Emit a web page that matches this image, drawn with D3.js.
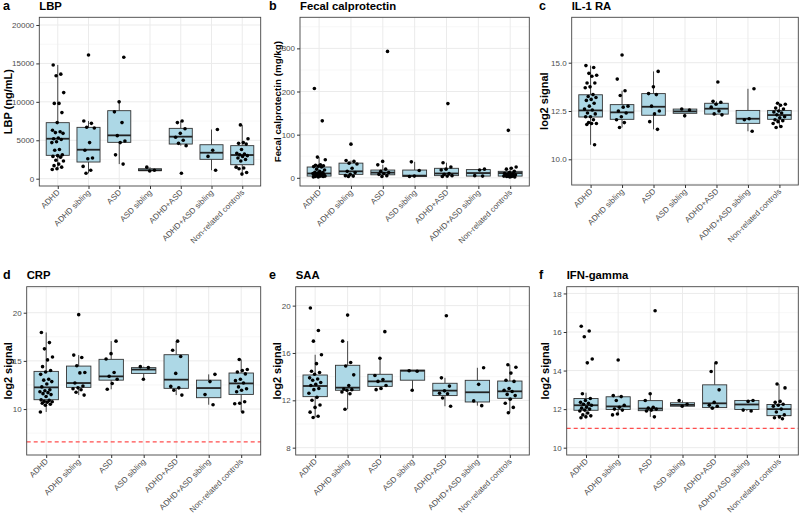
<!DOCTYPE html>
<html><head><meta charset="utf-8">
<script src="https://cdn.jsdelivr.net/npm/d3@7"></script>
<style>
html,body{margin:0;padding:0;background:#fff;}
svg{display:block;font-family:"Liberation Sans",Arial,sans-serif;}
</style></head>
<body><svg id="chart" width="800" height="517"></svg>
<script>
// ---------- DATA ----------
const groups = ["ADHD","ADHD sibling","ASD","ASD sibling","ADHD+ASD","ADHD+ASD sibling","Non-related controls"];

// box stats per group: [lower whisker, q1, median, q3, upper whisker]
const lbpPoints = [
  [14800,13600,13400,11200,9800,9800,8600,7300,6300,6100,6000,5900,5300,5200,5100,4800,4700,3800,3700,3100,3000,2900,2800,2400,2300,1900,1700,1500,1300,1200],
  [16100,7500,7200,6700,6600,4700,3700,2700,2600,1600,1100,700],
  [15800,10000,8700,7300,5600,4900,4700,3100,1900],
  [1500,1100,1000],
  [7500,7300,6500,5900,5400,5000,4600,4300,700],
  [6400,3700,2900,1100],
  [7000,5200,4700,4600,4500,3800,3300,3200,3100,3000,2900,2700,2500,2300,1500,1400,1300,800,600]
];
const lbpBox = [[1200,3040,5200,7290,14800],[700,2170,3770,6680,7500],[1900,4730,5640,8850,10000],[1000,1050,1100,1300,1500],[4300,4510,5470,6550,7500],[1100,2520,3380,4420,6400],[600,1820,3080,4300,7000]];
const lbpTicks = [0,5000,10000,15000,20000];

const calPoints = [
  [207,132,48,42,30,29,28,27,26,25,20,18,15,13,12,11,10,9,9,8,7,6,5,5,4,4,3,3,2,2],
  [78,40,38,34,32,22,15,12,8,5,4,3],
  [293,38,30,20,15,12,10,8,5,3],
  [37,17,4,3],
  [172,35,25,20,18,10,8,5,4,3],
  [20,18,5,4],
  [110,25,22,20,15,12,10,9,8,7,6,5,5,4,4,3,3,2,2]
];
const calBox = [[2,4,10,25,48],[3,8,15,34,40],[3,7,12,18,30],[3,3,5,18,37],[3,5,10,22,35],[4,4,11,19,20],[2,4,11,15,25]];
const calTicks = [0,100,200,300];

const il1Points = [
  [14.85,14.75,14.45,14.35,14.3,13.95,13.95,13.75,13.7,13.35,13.25,13.2,13.1,13.05,12.9,12.75,12.6,12.55,12.4,12.35,12.2,12.2,12.05,11.9,11.85,11.85,11.8,10.75],
  [15.4,14.15,13.55,13.3,12.75,12.7,12.5,12.4,12.2,12.05,11.9,11.65],
  [14.55,13.75,13.4,13.35,12.75,12.5,12.35,11.95,11.55],
  [12.6,12.55,12.25],
  [14.0,13.0,12.95,12.85,12.7,12.5,12.35,12.3],
  [13.65,12.1,12.05,11.45],
  [12.9,12.85,12.8,12.65,12.6,12.5,12.45,12.4,12.3,12.2,12.15,12.05,12.0,11.95,11.85,11.7,11.65]
];
const il1Box = [[10.75,12.19,12.53,13.34,14.85],[11.65,12.07,12.43,12.83,13.55],[11.55,12.28,12.72,13.4,14.55],[12.25,12.38,12.48,12.6,12.6],[12.3,12.34,12.62,12.9,13.0],[11.45,11.86,12.1,12.53,13.65],[11.65,12.07,12.29,12.53,12.9]];
const il1Ticks = [10.0,12.5,15.0];

const crpPoints = [
  [17.95,16.9,16.25,15.4,15.1,14.4,14.0,13.85,13.6,13.1,13.0,12.85,12.6,12.3,12.0,11.9,11.8,11.7,11.6,11.5,11.3,10.95,10.9,10.8,10.75,10.7,10.6,10.5,10.4,9.7],
  [19.8,15.6,15.35,14.5,13.8,13.75,12.7,12.4,12.2,12.1,12.0,11.75,11.45],
  [17.05,15.75,15.2,13.8,13.4,13.1,12.65,12.05],
  [14.4,14.3,13.1],
  [17.05,16.1,15.45,13.7,12.35,12.2,11.95,11.45],
  [13.6,12.85,11.5,10.45],
  [15.15,14.1,14.0,13.85,13.65,13.1,12.95,12.7,12.3,12.1,11.95,11.8,10.75,10.6,10.55,9.7]
];
const crpBox = [[9.7,10.97,12.25,13.91,17.95],[11.45,12.25,12.7,14.46,15.6],[12.05,13.0,13.39,15.16,17.05],[13.1,13.7,14.1,14.3,14.4],[11.45,12.15,13.05,15.64,17.05],[10.45,11.18,12.18,13.0,13.6],[9.7,11.52,12.66,13.74,15.15]];
const crpTicks = [10,15,20];
const crpThreshold = 6.6;

const saaPoints = [
  [19.8,17.9,17.0,15.85,15.1,14.45,14.35,14.2,13.9,13.8,13.7,13.5,13.35,13.25,13.0,12.9,12.6,12.25,12.0,11.6,11.4,11.0,10.65,10.55],
  [19.2,17.0,15.2,14.9,14.15,13.25,12.95,12.9,12.85,12.7,12.55,11.25],
  [17.8,15.55,14.1,13.75,13.6,13.25,13.0,12.9],
  [14.5,14.45,12.85],
  [19.15,13.9,13.2,12.8,12.6,12.55,12.2,11.5],
  [14.75,13.35,11.95,11.55],
  [15.0,14.8,14.3,13.7,13.6,13.0,12.85,12.75,12.5,12.4,12.1,11.75,11.4,10.95]
];
const saaBox = [[10.55,12.31,13.21,14.14,15.85],[11.25,12.85,13.07,14.96,17.0],[12.9,13.18,13.6,14.2,15.55],[12.85,13.7,14.5,14.55,14.55],[11.5,12.4,12.82,13.44,13.9],[11.55,11.86,12.68,13.69,14.75],[10.95,12.17,12.76,13.63,15.0]];
const saaTicks = [8,12,16,20];

const ifnPoints = [
  [16.3,16.05,15.75,14.6,14.4,12.8,12.55,12.45,12.35,12.3,12.25,12.2,12.1,12.05,12.0,11.95,11.9,11.8,11.7,11.65,11.6,11.55],
  [14.55,12.7,12.65,12.45,12.2,12.1,12.0,11.95,11.75,11.7],
  [17.1,12.8,12.45,12.1,12.05,12.0,11.95,11.9,11.6],
  [12.45,12.25,12.15],
  [14.4,13.95,13.0,12.35,12.2,12.15,12.05],
  [12.45,12.4,11.95,11.9],
  [13.3,13.1,12.4,12.35,12.25,12.2,12.15,12.0,11.85,11.7,11.6,11.55,11.5]
];
const ifnBox = [[11.55,11.94,12.2,12.55,12.85],[11.7,11.98,12.14,12.64,12.7],[11.6,11.92,12.03,12.44,12.8],[12.15,12.15,12.22,12.33,12.45],[12.05,12.08,12.3,13.26,14.4],[11.9,11.98,12.24,12.45,12.45],[11.5,11.66,12.0,12.24,13.3]];
const ifnTicks = [10,12,14,16,18];
const ifnThreshold = 11.0;

// ---------- LAYOUT ----------
const panels = [
  {letter:"a", title:"LBP", ylab:"LBP (ng/mL)", labSize:11, pts:lbpPoints, box:lbpBox, ticks:lbpTicks, fmt:d3.format("d"),
   domain:[-950,21000], x0:39.3, x1:260.7, y0:17.3, y1:186, letterX:3, labX:8, thr:null},
  {letter:"b", title:"Fecal calprotectin", ylab:"Fecal calprotectin (mg/kg)", labSize:9.8, pts:calPoints, box:calBox, ticks:calTicks, fmt:d3.format("d"),
   domain:[-19,372], x0:300, x1:529.3, y0:17.3, y1:186, letterX:269, labX:277.5, thr:null},
  {letter:"c", title:"IL-1 RA", ylab:"log2 signal", labSize:11, pts:il1Points, box:il1Box, ticks:il1Ticks, fmt:d3.format(".1f"),
   domain:[8.67,17.35], x0:571.7, x1:798.3, y0:17.3, y1:185, letterX:539, labX:544, thr:null},
  {letter:"d", title:"CRP", ylab:"log2 signal", labSize:11, pts:crpPoints, box:crpBox, ticks:crpTicks, fmt:d3.format("d"),
   domain:[5.23,22.7], x0:26.7, x1:260.7, y0:286.7, y1:455, letterX:3, labX:8.5, thr:crpThreshold},
  {letter:"e", title:"SAA", ylab:"log2 signal", labSize:11, pts:saaPoints, box:saaBox, ticks:saaTicks, fmt:d3.format("d"),
   domain:[7.38,21.6], x0:295.7, x1:529.3, y0:286.7, y1:455, letterX:269, labX:277, thr:null},
  {letter:"f", title:"IFN-gamma", ylab:"log2 signal", labSize:11, pts:ifnPoints, box:ifnBox, ticks:ifnTicks, fmt:d3.format("d"),
   domain:[9.62,18.35], x0:566.7, x1:798.3, y0:286.7, y1:455, letterX:539, labX:545, thr:ifnThreshold}
];

const svg = d3.select("#chart");
svg.append("rect").attr("width",800).attr("height",517).attr("fill","#fff");

// deterministic jitter offsets (fraction of category step)
function jit(g, i){ const v = ((i*0.6180339887 + g*0.37 + 0.13) % 1); return (v - 0.5) * 0.4; }

panels.forEach(p => {
  const x = d3.scalePoint().domain(groups).range([p.x0, p.x1]).padding(0.6);
  const y = d3.scaleLinear().domain(p.domain).range([p.y1, p.y0]);
  const step = x.step();
  const g = svg.append("g");

  // grid
  const dt = p.ticks[1]-p.ticks[0];
  const minor = [];
  for (let t = p.ticks[0]-dt/2; t <= p.domain[1]; t += dt) if (t >= p.domain[0]) minor.push(t);
  g.selectAll(".minor").data(minor).join("line")
    .attr("x1",p.x0).attr("x2",p.x1).attr("y1",d=>y(d)).attr("y2",d=>y(d))
    .attr("stroke","#F2F2F2").attr("stroke-width",0.6);
  g.selectAll(".major").data(p.ticks).join("line")
    .attr("x1",p.x0).attr("x2",p.x1).attr("y1",d=>y(d)).attr("y2",d=>y(d))
    .attr("stroke","#EBEBEB").attr("stroke-width",1);
  g.selectAll(".vgrid").data(groups).join("line")
    .attr("x1",d=>x(d)).attr("x2",d=>x(d)).attr("y1",p.y0).attr("y2",p.y1)
    .attr("stroke","#EBEBEB").attr("stroke-width",1);

  // boxes
  const bw = step*0.75;
  groups.forEach((grp, gi) => {
    const b = p.box[gi], cx = x(grp);
    g.append("line").attr("x1",cx).attr("x2",cx).attr("y1",y(b[3])).attr("y2",y(b[4]))
      .attr("stroke","#333").attr("stroke-width",0.9);
    g.append("line").attr("x1",cx).attr("x2",cx).attr("y1",y(b[1])).attr("y2",y(b[0]))
      .attr("stroke","#333").attr("stroke-width",0.9);
    g.append("rect").attr("x",cx-bw/2).attr("width",bw)
      .attr("y",y(b[3])).attr("height",Math.max(0.5,y(b[1])-y(b[3])))
      .attr("fill","#ADD8E6").attr("stroke","#333").attr("stroke-width",0.9);
    g.append("line").attr("x1",cx-bw/2).attr("x2",cx+bw/2).attr("y1",y(b[2])).attr("y2",y(b[2]))
      .attr("stroke","#222").attr("stroke-width",1.8);
  });

  // threshold line
  if (p.thr !== null) {
    g.append("line").attr("x1",p.x0).attr("x2",p.x1).attr("y1",y(p.thr)).attr("y2",y(p.thr))
      .attr("stroke","#FF4D4D").attr("stroke-width",1.3).attr("stroke-dasharray","4,3");
  }

  // points
  groups.forEach((grp, gi) => {
    g.selectAll(null).data(p.pts[gi]).join("circle")
      .attr("cx",(d,i)=>x(grp) + jit(gi,i)*step)
      .attr("cy",d=>y(d)).attr("r",1.8).attr("fill","#000");
  });

  // border
  g.append("rect").attr("x",p.x0).attr("y",p.y0).attr("width",p.x1-p.x0).attr("height",p.y1-p.y0)
    .attr("fill","none").attr("stroke","#444").attr("stroke-width",0.9);

  // axes
  const ya = g.append("g").attr("transform",`translate(${p.x0},0)`)
    .call(d3.axisLeft(y).tickValues(p.ticks).tickFormat(p.fmt).tickSize(3).tickPadding(2));
  ya.select(".domain").remove();
  ya.selectAll("line").attr("stroke","#333");
  ya.selectAll("text").attr("fill","#4D4D4D").attr("font-size",8).attr("font-family","Liberation Sans, Arial, sans-serif");

  const xa = g.append("g").attr("transform",`translate(0,${p.y1})`)
    .call(d3.axisBottom(x).tickSize(3).tickPadding(2));
  xa.select(".domain").remove();
  xa.selectAll("line").attr("stroke","#333");
  xa.selectAll("text").attr("fill","#4D4D4D").attr("font-size",8).attr("font-family","Liberation Sans, Arial, sans-serif")
    .attr("text-anchor","end").attr("dy",null).attr("y",0)
    .attr("transform","translate(2,7) rotate(-45)");

  // y title
  svg.append("text").attr("transform",`translate(${p.labX},${(p.y0+p.y1)/2}) rotate(-90)`)
    .attr("dy","0.35em").attr("text-anchor","middle").attr("font-weight","bold")
    .attr("font-size",p.labSize).attr("fill","#000").text(p.ylab);

  // titles
  svg.append("text").attr("x",p.letterX).attr("y",p.y0-7.3).attr("font-weight","bold")
    .attr("font-size",12.5).attr("fill","#000").text(p.letter);
  svg.append("text").attr("x",p.x0).attr("y",p.y0-7.3).attr("font-weight","bold")
    .attr("font-size",11.3).attr("fill","#000").text(p.title);
});
</script></body></html>
